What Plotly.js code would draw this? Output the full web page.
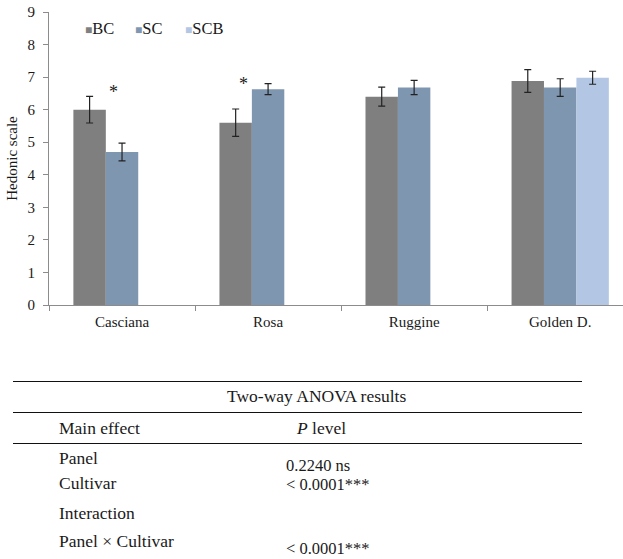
<!DOCTYPE html>
<html>
<head>
<meta charset="utf-8">
<script src="https://cdn.plot.ly/plotly-3.0.1.min.js"></script>
<style>html,body{margin:0;padding:0;background:#fff;}#chart{width:623px;height:559px;}</style>
</head>
<body>
<div id="chart"></div>
<script>
// ---- data ----
var cultivars = ["Casciana", "Rosa", "Ruggine", "Golden D."];
var bcValues  = [6.0, 5.6, 6.4, 6.88];
var bcErrors  = [0.41, 0.42, 0.29, 0.35];
var scValues  = [4.7, 6.63, 6.68, 6.68];
var scErrors  = [0.27, 0.17, 0.22, 0.27];
var scbValues = [null, null, null, 6.98];
var scbErrors = [null, null, null, 0.2];
var seriesNames = ["BC", "SC", "SCB"];
var yTicks = [0, 1, 2, 3, 4, 5, 6, 7, 8, 9];
var sigLabels = ["*", "*"];
var sigCultivars = ["Casciana", "Rosa"];

var tableTitle = "Two-way ANOVA results";
var tableHeader = ["Main effect", "<i>P</i> level"];
var tableRows = ["Panel", "Cultivar", "Interaction", "Panel × Cultivar"];
var tableValues = ["0.2240 ns", "< 0.0001***", "< 0.0001***"];

// ---- layout geometry (pixels) ----
var W = 623, H = 559;
var ml = 49, mr = 0, mt = 12, mb = 254;
var plotW = W - ml - mr, plotH = H - mt - mb;
function px2x(px){ return (px - ml) / plotW; }
function px2y(py){ return (H - mb - py) / plotH; }

var FONT = "Liberation Serif, DejaVu Serif, serif";
var TXT = "#1a1a1a";
var colors = ["#7f7f7f", "#7f96b1", "#b3c6e3"];

function barTrace(name, vals, errs, color){
  return {
    type: "bar", name: name, x: cultivars, y: vals,
    marker: {color: color, line: {width: 0}},
    error_y: {type: "data", array: errs, visible: true, color: "#222", thickness: 1.2, width: 3.5},
    hoverinfo: "y", showlegend: false
  };
}
var traces = [
  barTrace(seriesNames[0], bcValues, bcErrors, colors[0]),
  barTrace(seriesNames[1], scValues, scErrors, colors[1]),
  barTrace(seriesNames[2], scbValues, scbErrors, colors[2])
];

var annotations = [];
// legend key (drawn as text so the compact key spacing matches)
var legendX = [83, 133, 183];
for (var k = 0; k < seriesNames.length; k++){
  annotations.push({
    x: px2x(legendX[k]), y: px2y(29), xref: "paper", yref: "paper",
    text: '<span style="color:' + colors[k] + ';font-size:12px">■</span>' + seriesNames[k],
    showarrow: false, xanchor: "left", yanchor: "middle",
    font: {family: FONT, size: 16.5, color: TXT}
  });
}
// significance asterisks
var sigOffsets = [-0.06, -0.17];
var sigY = [6.55, 6.78];
for (var i = 0; i < sigLabels.length; i++){
  annotations.push({
    x: cultivars.indexOf(sigCultivars[i]) + sigOffsets[i], y: sigY[i], xref: "x", yref: "y",
    text: sigLabels[i], showarrow: false, font: {family: FONT, size: 18, color: TXT},
    xanchor: "center", yanchor: "middle"
  });
}
// ANOVA table texts
function tAnn(text, px, py, anchor, size){
  annotations.push({
    x: px2x(px), y: px2y(py), xref: "paper", yref: "paper", text: text, showarrow: false,
    xanchor: anchor || "left", yanchor: "middle",
    font: {family: FONT, size: size || 17.5, color: TXT}
  });
}
tAnn(tableTitle, 316, 396, "center");
tAnn(tableHeader[0], 57, 428);
tAnn(tableHeader[1], 294, 428);
tAnn(tableRows[0], 57, 458);
tAnn(tableRows[1], 57, 483);
tAnn(tableRows[2], 57, 513);
tAnn(tableRows[3], 57, 541);
tAnn(tableValues[0], 284, 465, "left", 16.5);
tAnn(tableValues[1], 284, 484, "left", 16.5);
tAnn(tableValues[2], 284, 548, "left", 16.5);

var shapes = [381.5, 412.5, 443.5].map(function(py){
  return {type: "line", xref: "paper", yref: "paper",
    x0: px2x(13), x1: px2x(582), y0: px2y(py), y1: px2y(py),
    line: {color: "#111", width: 1}};
});

var layout = {
  width: W, height: H,
  margin: {l: ml, r: mr, t: mt, b: mb, pad: 0},
  paper_bgcolor: "#fff", plot_bgcolor: "#fff",
  font: {family: FONT, size: 15, color: TXT},
  barmode: "group", bargap: 0.334, bargroupgap: 0,
  showlegend: false,
  xaxis: {
    type: "category", range: [-0.5, 3.43], showgrid: false, zeroline: false,
    showline: true, linecolor: "#8c8c8c", linewidth: 1,
    ticks: "outside", tickson: "boundaries", ticklen: 5, tickcolor: "#8c8c8c",
    tickfont: {family: FONT, size: 15, color: TXT}, ticklabelstandoff: 3, fixedrange: true
  },
  yaxis: {
    range: [0, 9], tickvals: yTicks, showgrid: false, zeroline: false,
    showline: true, linecolor: "#8c8c8c", linewidth: 1,
    ticks: "outside", ticklen: 5, tickcolor: "#8c8c8c",
    tickfont: {family: FONT, size: 15, color: TXT}, ticklabelstandoff: 5,
    title: {text: "Hedonic scale", font: {family: FONT, size: 15, color: TXT}, standoff: 6},
    fixedrange: true
  },
  annotations: annotations,
  shapes: shapes
};

Plotly.newPlot("chart", traces, layout, {displayModeBar: false, staticPlot: true});
</script>
</body>
</html>
